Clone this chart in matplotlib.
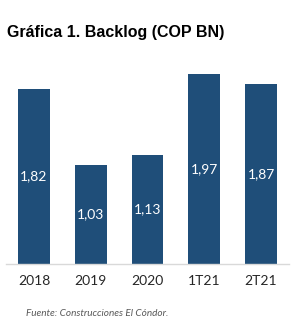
import matplotlib
matplotlib.use("Agg")
import matplotlib.pyplot as plt

categories = ["2018", "2019", "2020", "1T21", "2T21"]
values = [1.82, 1.03, 1.13, 1.97, 1.87]
value_labels = ["1,82", "1,03", "1,13", "1,97", "1,87"]
title = "Gráfica 1. Backlog (COP BN)"
source = "Fuente: Construcciones El Cóndor."

W, H = 294, 323
fig = plt.figure(figsize=(W / 100, H / 100), dpi=100)
fig.patch.set_facecolor("white")

# axes: x from 5.6 to 289.4 px, baseline at y=264, 1 unit = 96.2 px
ax_left = 5.6 / W
ax_width = (289.4 - 5.6) / W
ymax = 2.1
ax_bottom = (H - 264) / H
ax_height = (ymax * 96.2) / H
ax = fig.add_axes([ax_left, ax_bottom, ax_width, ax_height])

bar_color = "#1f4e79"
x = range(len(categories))
bars = ax.bar(x, values, width=0.56, color=bar_color, zorder=2)
ax.set_xlim(-0.5, len(categories) - 0.5)
ax.set_ylim(0, ymax)

for xi, v, lab in zip(x, values, value_labels):
    ax.text(xi, v / 2, lab, ha="center", va="center", color="white",
            fontsize=10, family="Lato")

for s in ["top", "right", "left"]:
    ax.spines[s].set_visible(False)
ax.spines["bottom"].set_color("#d9d9d9")
ax.spines["bottom"].set_linewidth(1)
ax.set_yticks([])
ax.set_xticks(list(x))
ax.set_xticklabels(categories, fontsize=10, family="Lato", color="#262626")
ax.tick_params(axis="x", length=0, pad=8)

fig.text(7 / W, 1 - 33 / H, title, ha="left", va="center",
         fontsize=11.5, fontweight="bold", family="Liberation Sans", color="black")
fig.text(26 / W, 1 - 313 / H, source, ha="left", va="center",
         fontsize=7.2, style="italic", family="Lato", color="#595959")

fig.savefig("out.png", dpi=100, facecolor="white")
